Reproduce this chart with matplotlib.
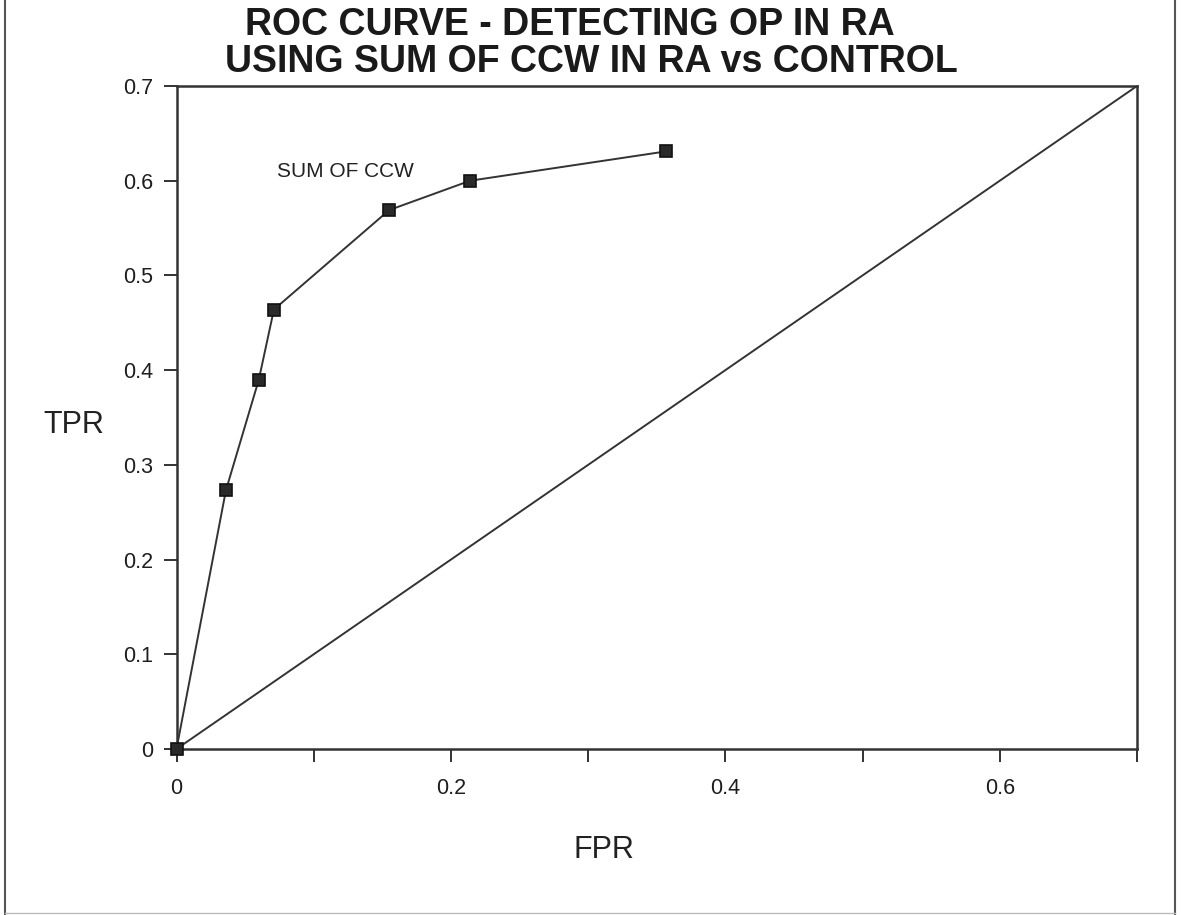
import matplotlib
matplotlib.use("Agg")
import matplotlib.pyplot as plt
from matplotlib.lines import Line2D

plt.rcParams['font.family'] = ['Liberation Sans', 'DejaVu Sans']

# datos
fpr = [0.0, 0.036, 0.060, 0.071, 0.155, 0.214, 0.357]
tpr = [0.0, 0.273, 0.390, 0.464, 0.569, 0.600, 0.631]
diag = [0.0, 0.7]
x_ticks = [0, 0.1, 0.2, 0.3, 0.4, 0.5, 0.6, 0.7]
x_labels = ["0", "", "0.2", "", "0.4", "", "0.6", ""]
y_ticks = [0, 0.1, 0.2, 0.3, 0.4, 0.5, 0.6, 0.7]
y_labels = ["0", "0.1", "0.2", "0.3", "0.4", "0.5", "0.6", "0.7"]

W, H = 1181, 915
fig = plt.figure(figsize=(W / 100, H / 100), dpi=100)
ax = fig.add_axes([176.5 / W, 1 - 749 / H, (1137 - 176.5) / W, (749 - 86) / H])

gris = "#333333"
ax.plot(diag, diag, color=gris, linewidth=1.4)
ax.plot(fpr, tpr, color=gris, linewidth=1.4, marker="s", markersize=8.5,
        markerfacecolor="#2a2a2a", markeredgecolor="#111111", markeredgewidth=1.2,
        clip_on=False, zorder=5)

ax.set_xlim(0, 0.7)
ax.set_ylim(0, 0.7)
ax.set_xticks(x_ticks)
ax.set_xticklabels(x_labels)
ax.set_yticks(y_ticks)
ax.set_yticklabels(y_labels)
ax.tick_params(axis="x", length=9, width=1.4, color=gris, pad=12, labelsize=15.5, labelcolor="#1e1e1e")
ax.tick_params(axis="y", length=9.5, width=1.4, color=gris, pad=7, labelsize=15.5, labelcolor="#1e1e1e")
for s in ax.spines.values():
    s.set_color(gris)
    s.set_linewidth(1.8)

ax.text(0.073, 0.604, "SUM OF CCW", fontsize=15, color="#222222", va="baseline")

# etiquetas de ejes
fig.text(43 / W, 1 - 433 / H, "TPR", fontsize=22, color="#222222", va="baseline")
fig.text(573 / W, 1 - 858 / H, "FPR", fontsize=22, color="#222222", va="baseline")

# titulo
fig.text(245 / W, 1 - 35 / H, "ROC CURVE - DETECTING OP IN RA", fontsize=27,
         fontweight="bold", color="#1a1a1a", va="baseline")
fig.text(225 / W, 1 - 72 / H, "USING SUM OF CCW IN RA vs CONTROL", fontsize=27,
         fontweight="bold", color="#1a1a1a", va="baseline")

# marco de la figura
borde = "#555555"
fig.add_artist(Line2D([5 / W, 5 / W], [0, 1], color=borde, linewidth=1.5, transform=fig.transFigure))
fig.add_artist(Line2D([1175 / W, 1175 / W], [0, 1], color=borde, linewidth=1.5, transform=fig.transFigure))
fig.add_artist(Line2D([5 / W, 1175 / W], [2 / H, 2 / H], color="#bbbbbb", linewidth=1.0, transform=fig.transFigure))

fig.savefig("out.png", dpi=100, facecolor="white")
